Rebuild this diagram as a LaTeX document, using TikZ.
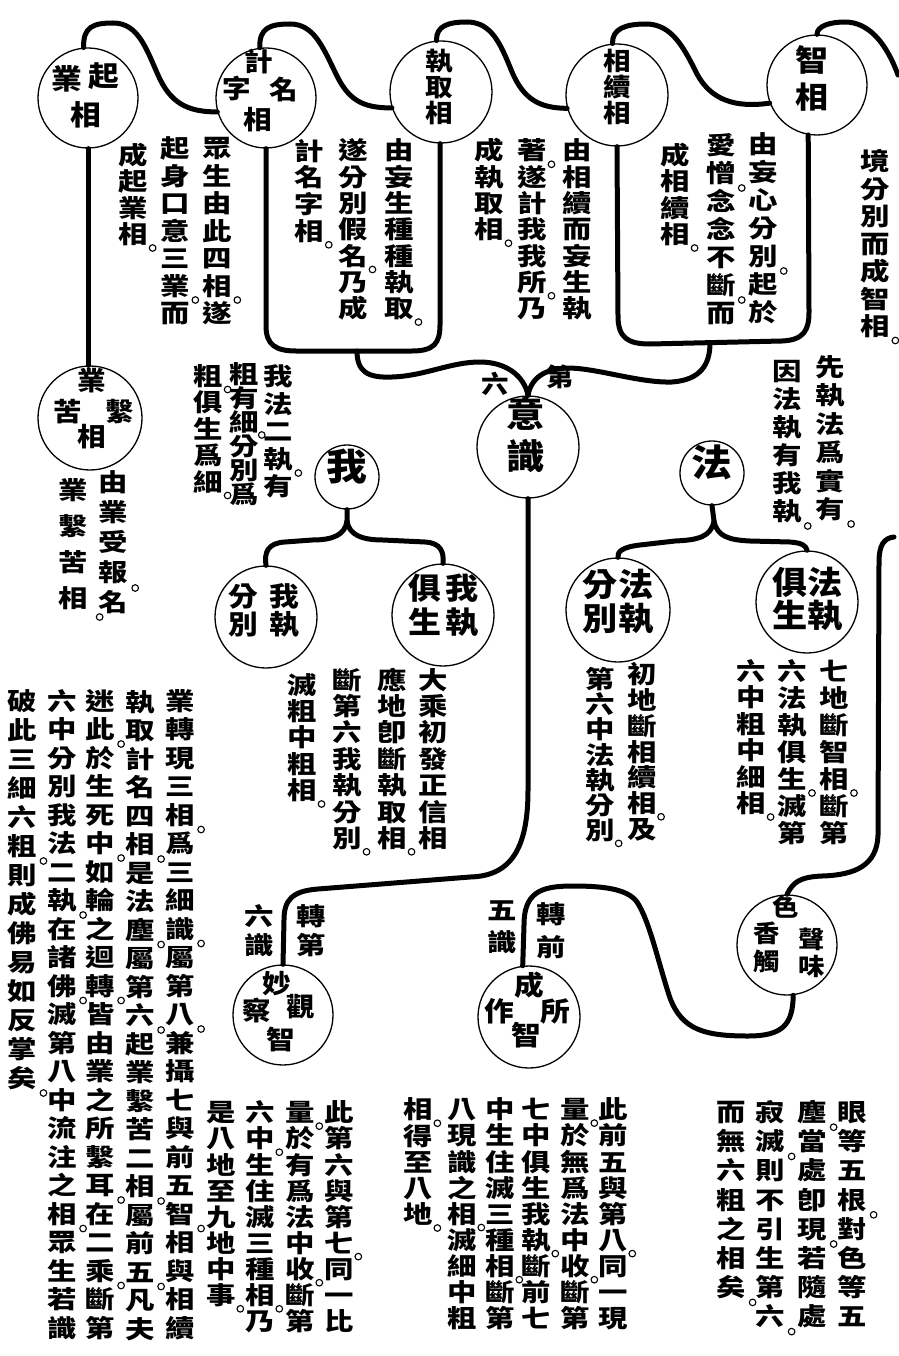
\documentclass[tikz,border=0pt]{standalone}
\usepackage{fontspec}
\newfontfamily\cjk{Noto Sans CJK TC}[FakeStretch=1.1]
\newfontfamily\cjkw{Noto Sans CJK TC}[FakeStretch=1.2]
\tikzset{
  conn/.style={line width=5pt, line cap=round, line join=round},
  circ/.style={circle, draw, line width=1.3pt, inner sep=0pt, fill=white},
  ch/.style={inner sep=0pt, font=\cjkw\bfseries\fontsize{#1}{#1}\selectfont, text height=0.88em, text depth=0.12em},
  cc/.style={inner sep=0pt, font=\cjk\bfseries\fontsize{#1}{#1}\selectfont, text height=0.88em, text depth=0.12em},
  dotmark/.style={line width=1.1pt, draw=black, fill=white}
}
\ExplSyntaxOn
\int_new:N \l_vc_k_int
\int_new:N \g_vc_id_int
\NewDocumentCommand \vcol { O{28} m m m }
 {
  \int_zero:N \l_vc_k_int
  \tl_map_inline:nn {#4}
   {
    \tl_if_eq:nnTF {##1} {。}
     {
      \draw[dotmark] (#2+0.74*#1, #3+\int_use:N \l_vc_k_int*#1-5) circle[radius=3.3pt];
     }
     {
      \int_gincr:N \g_vc_id_int
      \node[ch=24.5, name=vc\int_use:N \g_vc_id_int] at (#2, #3+\int_use:N \l_vc_k_int*#1+0.5*#1) {##1};
      \int_incr:N \l_vc_k_int
     }
   }
 }
\NewDocumentCommand \cch { O{28} m m m }
 {
  \int_gincr:N \g_vc_id_int
  \node[cc=#1, name=cc\int_use:N \g_vc_id_int] at (#2,#3) {#4};
 }
\ExplSyntaxOff
\begin{document}
\begin{tikzpicture}[x=1pt,y=-1pt]
\path[use as bounding box, fill=white] (0,0) rectangle (898,1356);

% circles
\node[circ, minimum size=100pt] (c1) at (88,98) {};
\node[circ, minimum size=100pt] (c2) at (266,98) {};
\node[circ, minimum size=102pt] (c3) at (441,92) {};
\node[circ, minimum size=102pt] (c4) at (617,95) {};
\node[circ, minimum size=100pt] (c5) at (817,85) {};
\node[circ, minimum size=102pt] (c6) at (528,447) {};
\node[circ, minimum size=104pt] (c7) at (90,418) {};
\node[circ, minimum size=64pt] (c8) at (347,477) {};
\node[circ, minimum size=102pt] (c9) at (266,617) {};
\node[circ, minimum size=102pt] (c10) at (443,615) {};
\node[circ, minimum size=64pt] (c11) at (712,473) {};
\node[circ, minimum size=104pt] (c12) at (618,610) {};
\node[circ, minimum size=102pt] (c13) at (807,602) {};
\node[circ, minimum size=100pt] (c14) at (283,1015) {};
\node[circ, minimum size=102pt] (c15) at (529,1017) {};
\node[circ, minimum size=100pt] (c16) at (787,945) {};

% coordinates
\coordinate (topend) at (898,75);
\coordinate (jb) at (357,351);
\coordinate (xb) at (710,343);
\coordinate (wsplit) at (347,521);
\coordinate (fsplit) at (714,521);
\coordinate (brtop) at (894,537);

% top chain
\draw[conn] (c1.95) .. controls (83,27) and (93,23) .. (113,23) .. controls (138,23) and (146,48) .. (158,75) .. controls (170,102) and (186,112) .. (c2.196);
\draw[conn] (c2.97) .. controls (259,28) and (270,24) .. (290,24) .. controls (313,24) and (322,45) .. (335,72) .. controls (348,100) and (362,108) .. (c3.198);
\draw[conn] (c3.95) .. controls (436,26) and (448,22) .. (467,22) .. controls (492,22) and (501,45) .. (512,72) .. controls (524,100) and (540,108) .. (c4.195);
\draw[conn] (c4.95) .. controls (612,29) and (625,24) .. (646,24) .. controls (672,24) and (684,48) .. (697,74) .. controls (711,100) and (735,108) .. (c5.201);
\draw[conn] (c5.90) .. controls (817,26) and (830,22) .. (845,22) .. controls (868,22) and (886,42) .. (topend);

% boxes
\draw[conn] (c2.south) -- (266,326) .. controls (266,345) and (276,351) .. (296,351) -- (412,351) .. controls (434,351) and (440,343) .. (440,325) -- (c3.-91);
\draw[conn] (c4.-90) -- (618,316) .. controls (618,338) and (628,344) .. (650,344) -- (782,341) .. controls (804,340) and (809,330) .. (809,312) -- (c5.260);
\draw[conn] (jb) .. controls (357,372) and (368,378) .. (392,377) .. controls (425,376) and (450,362) .. (480,362) .. controls (505,362) and (524,375) .. (c6.north);
\draw[conn] (c6.north) .. controls (531,378) and (545,368) .. (570,368) .. controls (600,369) and (640,383) .. (672,382) .. controls (700,380) and (710,365) .. (xb);

% vertical left
\draw[conn] (c1.south) -- (c1.south |- c7.north);

% wo branches
\draw[conn] (c8.south) -- (wsplit) .. controls (345,535) and (333,540) .. (312,540) -- (285,542) .. controls (268,543) and (264,552) .. (c9.north);
\draw[conn] (wsplit) .. controls (349,535) and (362,540) .. (383,540) -- (425,542) .. controls (441,543) and (444,552) .. (c10.north);
% fa branches
\draw[conn] (c11.south) -- (fsplit) .. controls (711,537) and (698,540) .. (675,541) -- (640,545) .. controls (622,547) and (617,552) .. (c12.north);
\draw[conn] (fsplit) .. controls (717,537) and (730,540) .. (750,541) -- (790,542) .. controls (803,543) and (806,546) .. (c13.north);

% yishi down
\draw[conn] (c6.south) -- (528,790) .. controls (528,850) and (510,876) .. (470,877) -- (318,889) .. controls (292,891) and (284,900) .. (284,920) -- (c14.north);
% bracket
\draw[conn] (brtop) .. controls (884,538) and (879,545) .. (879,562) -- (878,835) .. controls (877,865) and (856,875) .. (822,876) .. controls (800,877) and (793,882) .. (c16.north);
\draw[conn] (c16.-83) .. controls (793,1025) and (782,1036) .. (748,1036) .. controls (705,1036) and (682,1030) .. (670,998) .. controls (658,962) and (650,922) .. (637,902) .. controls (627,888) and (600,886) .. (572,886) .. controls (540,886) and (524,893) .. (524,925) -- (c15.97);

% circle texts
\cch[28]{104}{83}{起}\cch[28]{67}{86}{業}\cch[28]{86}{122}{相}
\cch[26]{259}{68}{計}\cch[26]{284}{96}{名}\cch[26]{237}{95}{字}\cch[26]{258}{126}{相}
\cch[25]{439}{67}{執}\cch[25]{439}{93}{取}\cch[25]{439}{119}{相}
\cch[25]{617}{67}{相}\cch[25]{617}{93}{續}\cch[25]{617}{119}{相}
\cch[30]{812}{68}{智}\cch[30]{812}{105}{相}
\cch[26]{92}{387}{業}\cch[26]{120}{418}{繫}\cch[26]{68}{418}{苦}\cch[26]{92}{443}{相}
\cch[35]{526}{424}{意}\cch[35]{526}{466}{識}
\cch[37]{347}{477}{我}
\cch[37]{712}{473}{法}
\cch[27]{284}{603}{我}\cch[27]{284}{631}{執}\cch[27]{243}{603}{分}\cch[27]{243}{631}{別}
\cch[30]{462}{596}{我}\cch[30]{462}{630}{執}\cch[30]{425}{596}{俱}\cch[30]{425}{630}{生}
\cch[32]{636}{593}{法}\cch[32]{636}{627}{執}\cch[32]{600}{593}{分}\cch[32]{600}{627}{別}
\cch[32]{825}{591}{法}\cch[32]{825}{624}{執}\cch[32]{790}{591}{俱}\cch[32]{790}{624}{生}
\cch[26]{277}{990}{妙}\cch[26]{301}{1013}{觀}\cch[26]{257}{1017}{察}\cch[26]{281}{1046}{智}
\cch[27]{529}{992}{成}\cch[27]{555}{1018}{所}\cch[27]{499}{1018}{作}\cch[27]{526}{1042}{智}
\cch[24]{786}{913}{色}\cch[24]{812}{945}{聲}\cch[24]{812}{972}{味}\cch[24]{767}{939}{香}\cch[24]{767}{967}{觸}

% labels
\cch[25]{560}{383}{第}\cch[25]{495}{390}{六}
\vcol[29]{311}{907}{轉第}
\vcol[29]{259}{907}{六識}
\vcol[33]{551}{903}{轉前}
\vcol[32]{502}{900}{五識}

% top texts
\vcol[27.5]{217}{140}{眾生由此四相。遂}
\vcol[27.5]{175}{140}{起身口意三業。而}
\vcol[26.5]{133}{147}{成起業相。}
\vcol[26.3]{399}{143}{由妄生種種執取。}
\vcol[26.3]{353}{143}{遂分別假名。乃成}
\vcol[26.7]{309}{143}{計名字相。}
\vcol[26.3]{577}{143}{由相續而妄生執}
\vcol[26.3]{532}{143}{著。遂計我我所。乃}
\vcol[26.3]{489}{143}{成執取相。}
\vcol[28]{763}{136}{由妄心分別。起於}
\vcol[28]{721}{137}{愛憎。念念不斷。而}
\vcol[26.5]{675}{147}{成相續相。}
\vcol[27.5]{875}{153}{境分別而成智相。}

% middle texts
\vcol[28.5]{830}{358}{先執法爲實有。}
\vcol[28]{787}{363}{因法執有我執。}
\vcol[27.5]{278}{368}{我法二執。有}
\vcol[24]{244}{368}{粗有細。分別爲}
\vcol[26.5]{208}{368}{粗。俱生爲細。}
\vcol[30]{113}{473}{由業受報。名}
\vcol[36]{73}{478}{業繫苦相。}
\vcol[26.4]{433}{672}{大乘初發正信相}
\vcol[26.4]{392}{672}{應地卽斷執取相。}
\vcol[26.4]{347}{672}{斷第六我執分別。}
\vcol[26.4]{302}{677}{滅粗中粗相。}
\vcol[25.8]{642}{667}{初地斷相續相。及}
\vcol[25.2]{600}{672}{第六中法執分別。}
\vcol[27]{834}{663}{七地斷智相。斷第}
\vcol[27]{792}{663}{六法執俱生。滅第}
\vcol[26.5]{751}{663}{六中粗中細相。}

% left long text
\vcol[28.5]{180}{692}{業轉現三相。爲三細識。屬第八。兼攝七與前五智。相與相續}
\vcol[28.5]{140}{693}{執取計名四相。是法塵。屬第六。起業繫苦二相。屬前五。凡夫}
\vcol[28.5]{100}{692}{迷此。於生死中。如輪之迴轉。皆由業之所繫耳。在二乘。斷第}
\vcol[28.5]{62}{692}{六中分別我法二執。在諸佛。滅第八中流注之相。眾生若識}
\vcol[29]{22}{692}{破此三細六粗。則成佛易如反掌矣。}

% bottom texts
\vcol[26.1]{339}{1105}{此第六與第七。同一比}
\vcol[26.1]{300}{1105}{量。於有爲法中收。斷第}
\vcol[26.1]{260}{1105}{六中。生住滅三種相。乃}
\vcol[26.1]{221}{1105}{是八地至九地中事。}
\vcol[26.1]{613}{1102}{此前五與第八。同一現}
\vcol[26.1]{575}{1102}{量。於無爲法中收。斷第}
\vcol[26.1]{536}{1102}{七中俱生我執。斷前七}
\vcol[26.1]{500}{1102}{中生住滅三種相。斷第}
\vcol[26.1]{462}{1102}{八現識之相。滅細中粗}
\vcol[26.2]{418}{1102}{相。得至八地。}
\vcol[29.2]{852}{1103}{眼等五根。對色等五}
\vcol[29.2]{812}{1103}{塵。當處卽現。若隨處}
\vcol[29.2]{770}{1103}{寂滅。則不引生第六。}
\vcol[29.2]{731}{1103}{而無六粗之相矣。}
\end{tikzpicture}
\end{document}
